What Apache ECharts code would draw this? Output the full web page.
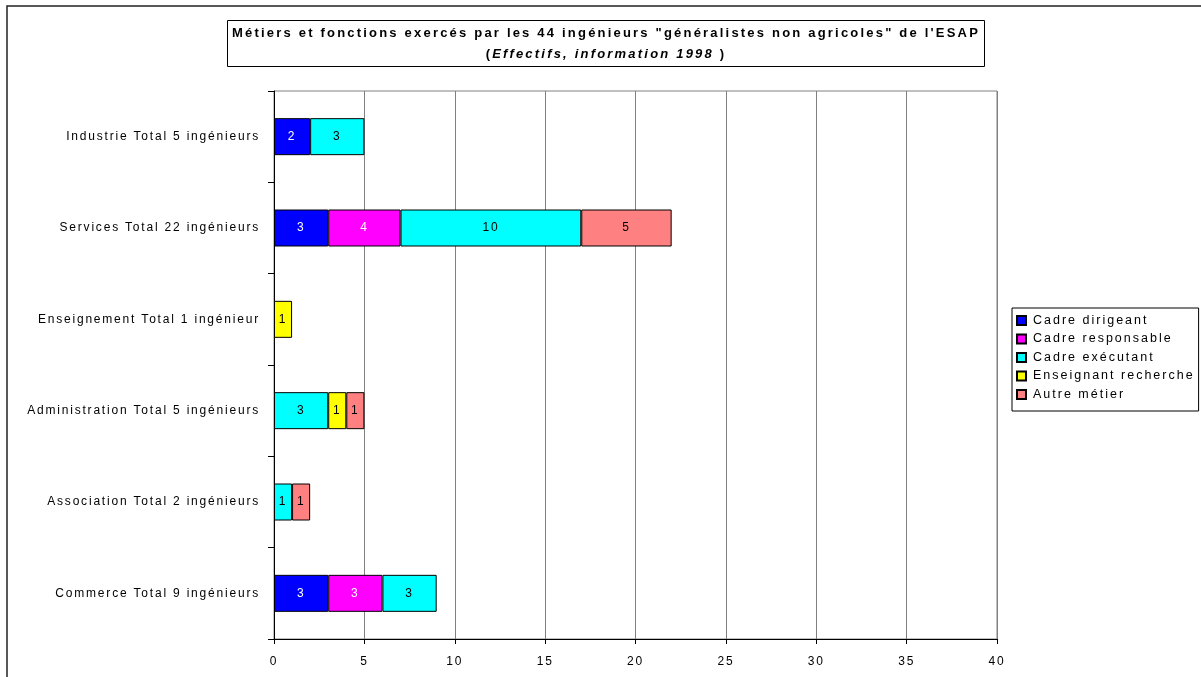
<!DOCTYPE html>
<html>
<head>
<meta charset="utf-8">
<script src="https://cdn.jsdelivr.net/npm/echarts@6/dist/echarts.min.js"></script>
<style>
  html, body { margin: 0; padding: 0; background: #fff; }
  #chart { width: 1201px; height: 677px; }
</style>
</head>
<body>
<div id="chart"></div>
<script>
// ---- Data (categories listed top to bottom, as in the reference) ----
var categories = [
  'Industrie Total 5 ingénieurs',
  'Services Total 22 ingénieurs',
  'Enseignement Total 1 ingénieur',
  'Administration Total 5 ingénieurs',
  'Association Total 2 ingénieurs',
  'Commerce Total 9 ingénieurs'
];
var seriesNames = ['Cadre dirigeant', 'Cadre responsable', 'Cadre exécutant', 'Enseignant recherche', 'Autre métier'];
var cadreDirigeant    = [2, 3, '-', '-', '-', 3];
var cadreResponsable  = ['-', 4, '-', '-', '-', 3];
var cadreExecutant    = [3, 10, '-', 3, 1, 3];
var enseignantRecherche = ['-', '-', 1, 1, '-', '-'];
var autreMetier       = ['-', 5, '-', 1, 1, '-'];
var xTicks = [0, 5, 10, 15, 20, 25, 30, 35, 40];
var titleLine1 = 'Métiers et fonctions exercés par les 44 ingénieurs "généralistes non agricoles" de l\'ESAP';
var titleLine2Italic = 'Effectifs, information 1998 ';

// Letter spacing to mimic the spaced-out text of the original
(function () {
  var proto = window.CanvasRenderingContext2D && CanvasRenderingContext2D.prototype;
  if (!proto || !('letterSpacing' in proto)) return;
  var d = Object.getOwnPropertyDescriptor(proto, 'font');
  if (!d || !d.set) return;
  Object.defineProperty(proto, 'font', {
    configurable: true,
    enumerable: d.enumerable,
    get: function () { return d.get.call(this); },
    set: function (v) {
      d.set.call(this, v);
      var s = String(v);
      this.letterSpacing = /bold|700/.test(s) ? '2.2px' : (s.indexOf('12.5px') >= 0 ? '2.0px' : '1.8px');
    }
  });
})();

var FONT = '"Liberation Sans", Arial, sans-serif';
var colors = ['#0000FF', '#FF00FF', '#00FFFF', '#FFFF00', '#FF8080'];
var labelColors = ['#FFFFFF', '#FFFFFF', '#000000', '#000000', '#000000'];
var seriesData = [cadreDirigeant, cadreResponsable, cadreExecutant, enseignantRecherche, autreMetier];

var chart = echarts.init(document.getElementById('chart'), null, { renderer: 'canvas' });

var series = seriesNames.map(function (name, i) {
  return {
    name: name,
    type: 'bar',
    stack: 'total',
    barWidth: 37,
    data: seriesData[i],
    itemStyle: { color: colors[i], borderColor: '#000', borderWidth: 1 },
    label: {
      show: true,
      position: 'inside',
      color: labelColors[i],
      fontFamily: FONT,
      fontSize: 12
    },
    emphasis: { disabled: true }
  };
});

chart.setOption({
  animation: false,
  backgroundColor: '#fff',
  color: colors,
  title: {
    text: titleLine1,
    subtext: '{p|(}{i|' + titleLine2Italic + '}{p|)}',
    left: 601,
    top: 20,
    textAlign: 'center',
    padding: [6, 5, 4, 5],
    itemGap: 6,
    borderColor: '#000',
    borderWidth: 1,
    textStyle: { fontFamily: FONT, fontSize: 13, fontWeight: 'bold', color: '#000', lineHeight: 15 },
    subtextStyle: {
      fontFamily: FONT, fontSize: 13, color: '#000', lineHeight: 15,
      rich: {
        p: { fontFamily: FONT, fontSize: 13, fontWeight: 'bold', color: '#000' },
        i: { fontFamily: FONT, fontSize: 13, fontWeight: 'bold', fontStyle: 'italic', color: '#000' }
      }
    }
  },
  legend: {
    orient: 'vertical',
    left: 1012,
    top: 308,
    padding: [5, 4, 9, 4],
    itemGap: 3.5,
    itemWidth: 9,
    itemHeight: 9,
    icon: 'rect',
    borderColor: '#000',
    borderWidth: 1,
    borderRadius: 0,
    selectedMode: false,
    textStyle: { fontFamily: FONT, fontSize: 12.5, color: '#000', lineHeight: 15, padding: [0, 0, 0, 2] },
    data: seriesNames
  },
  grid: {
    left: 274,
    right: 204,
    top: 91,
    bottom: 38,
    show: true,
    borderColor: '#808080',
    borderWidth: 1,
    containLabel: false
  },
  xAxis: {
    type: 'value',
    min: xTicks[0],
    max: xTicks[xTicks.length - 1],
    interval: xTicks[1] - xTicks[0],
    axisLine: { show: true, lineStyle: { color: '#000', width: 1 } },
    axisTick: { show: true, length: 5, lineStyle: { color: '#000' } },
    axisLabel: { color: '#000', fontFamily: FONT, fontSize: 12, margin: 16 },
    splitLine: { show: true, lineStyle: { color: '#808080', width: 1 } }
  },
  yAxis: {
    type: 'category',
    inverse: true,
    data: categories,
    axisLine: { show: true, lineStyle: { color: '#000', width: 1 } },
    axisTick: { show: true, length: 6, lineStyle: { color: '#000' } },
    axisLabel: { color: '#000', fontFamily: FONT, fontSize: 12, margin: 14 },
    splitLine: { show: false }
  },
  graphic: [{
    type: 'rect',
    silent: true,
    z: -10,
    shape: { x: 7, y: 6, width: 1400, height: 900 },
    style: { fill: 'none', stroke: '#222', lineWidth: 1.5 }
  }],
  series: series
});
</script>
</body>
</html>
